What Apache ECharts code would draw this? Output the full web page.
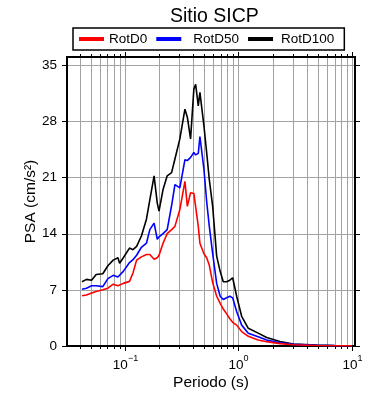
<!DOCTYPE html>
<html>
<head>
<meta charset="utf-8">
<script src="https://cdn.jsdelivr.net/npm/echarts@6/dist/echarts.min.js"></script>
<style>
html, body { margin: 0; padding: 0; background: #fff; }
#chart { width: 390px; height: 400px; }
</style>
</head>
<body>
<div id="chart"></div>
<script>
// periodos (s)
var periods = [0.042, 0.046, 0.051, 0.056, 0.064, 0.071, 0.079, 0.087, 0.09, 0.097,
	0.11, 0.118, 0.127, 0.14, 0.155, 0.166, 0.181, 0.193, 0.2, 0.217,
	0.236, 0.258, 0.276, 0.305, 0.338, 0.355, 0.379, 0.405, 0.42, 0.443,
	0.458, 0.497, 0.525, 0.553, 0.593, 0.643, 0.69, 0.735, 0.787, 0.84,
	0.889, 0.964, 1.067, 1.22, 1.49, 1.77, 2.32, 3.04, 4.89, 7.0, 10.0];

var rotD0 = [6.25, 6.35, 6.6, 6.8, 7.0, 7.2, 7.7, 7.5, 7.5, 7.8,
	8.05, 9.1, 10.7, 11.1, 11.4, 11.4, 10.8, 11.0, 11.3, 12.8,
	14.0, 14.5, 14.9, 17.0, 20.5, 17.4, 19.1, 19.0, 18.9, 14.9,
	12.8, 11.5, 11.0, 10.1, 7.9, 6.2, 5.3, 4.6, 4.0, 3.4,
	2.95, 2.6, 1.8, 1.2, 0.75, 0.54, 0.3, 0.15, 0.07, 0.04, 0.03];

var rotD50 = [7.08, 7.2, 7.5, 7.5, 7.4, 8.4, 8.8, 8.6, 8.55, 9.3,
	10.4, 10.75, 11.3, 12.3, 12.8, 14.5, 15.3, 13.3, 13.6, 14.0,
	14.5, 17.5, 20.1, 19.7, 23.2, 23.1, 23.5, 24.1, 23.8, 24.0,
	26.1, 22.0, 18.0, 15.0, 11.5, 7.8, 6.2, 5.8, 6.0, 6.2,
	6.0, 4.3, 2.6, 1.6, 1.15, 0.75, 0.4, 0.2, 0.09, 0.05, 0.035];

var rotD100 = [8.0, 8.3, 8.2, 8.9, 9.0, 10.0, 10.7, 11.0, 10.3, 11.0,
	12.2, 12.0, 12.4, 13.7, 15.8, 18.2, 21.2, 17.8, 16.8, 19.5,
	21.2, 21.6, 23.3, 25.8, 29.5, 28.5, 25.8, 32.0, 32.6, 29.9,
	31.6, 27.4, 24.1, 20.8, 17.4, 11.2, 9.3, 8.0, 8.0, 8.2,
	8.5, 6.2, 3.7, 2.2, 1.6, 1.05, 0.55, 0.25, 0.12, 0.07, 0.04];

var xTicks = [0.04, 0.05, 0.06, 0.07, 0.08, 0.09, 0.1, 0.2, 0.3, 0.4, 0.5, 0.6, 0.7, 0.8, 0.9,
	1, 2, 3, 4, 5, 6, 7, 8, 9, 10];
var xMajor = [0.1, 1, 10];
var xMajorExp = ['\u22121', '0', '1'];
var yTicks = [0, 7, 14, 21, 28, 35];

var font = 'Liberation Sans, Arial, Helvetica, sans-serif';
var gridColor = '#a3a3a3';

function pairs(vals) {
	return periods.map(function(p, i) {
		return [p, vals[i]];
	});
}

var chart = echarts.init(document.getElementById('chart'));

function renderXTick(params, api) {
	var v = api.value(0);
	var cs = params.coordSys;
	var x = Math.round(api.coord([v, 1])[0]) + 0.5;
	var top = cs.y, bottom = cs.y + cs.height;
	var k = xMajor.indexOf(v);
	var len = k >= 0 ? 5 : 3;
	var children = [{
		type: 'line',
		shape: { x1: x, y1: top + 1, x2: x, y2: bottom - 1 },
		style: { stroke: gridColor, lineWidth: 1 }
	}, {
		type: 'line',
		shape: { x1: x, y1: bottom + 1, x2: x, y2: bottom + len },
		style: { stroke: '#000', lineWidth: 1 }
	}, {
		type: 'line',
		shape: { x1: x, y1: top - len, x2: x, y2: top - 1 },
		style: { stroke: '#000', lineWidth: 1 }
	}];
	if (k >= 0) {
		children.push({
			type: 'text',
			x: x,
			y: bottom + 8,
			style: {
				text: '{b|10}{s|' + xMajorExp[k] + '}',
				align: 'center',
				verticalAlign: 'top',
				fill: '#000',
				rich: {
					b: { fontSize: 13.5, fontFamily: font, lineHeight: 18, verticalAlign: 'bottom' },
					s: { fontSize: 9, fontFamily: font, lineHeight: 10, verticalAlign: 'top' }
				}
			}
		});
	}
	return { type: 'group', children: children };
}

function renderYTick(params, api) {
	var v = api.value(1);
	var cs = params.coordSys;
	var y = Math.round(api.coord([1, v])[1]) + 0.5;
	var left = cs.x, right = cs.x + cs.width;
	var children = [{
		type: 'line',
		shape: { x1: left - 5, y1: y, x2: left - 1, y2: y },
		style: { stroke: '#000', lineWidth: 1 }
	}, {
		type: 'line',
		shape: { x1: right + 1, y1: y, x2: right + 5, y2: y },
		style: { stroke: '#000', lineWidth: 1 }
	}];
	if (v > 0) {
		children.unshift({
			type: 'line',
			shape: { x1: left + 1, y1: y, x2: right - 1, y2: y },
			style: { stroke: gridColor, lineWidth: 1 }
		});
	}
	return { type: 'group', children: children };
}

option = {
	animation: false,
	backgroundColor: '#fff',
	title: {
		text: 'Sitio SICP',
		left: 165,
		top: 2,
		textStyle: { fontFamily: font, fontSize: 19.5, fontWeight: 'normal', color: '#000' }
	},
	legend: {
		left: 73,
		top: 28,
		padding: [4, 10, 4, 6],
		borderColor: '#000',
		borderWidth: 1.5,
		itemWidth: 25,
		itemHeight: 4,
		itemGap: 9,
		icon: 'rect',
		textStyle: { fontFamily: font, fontSize: 13.5, color: '#000' },
		data: [
			{ name: 'RotD0' },
			{ name: 'RotD50', textStyle: { padding: [0, 0, 0, 7] } },
			{ name: 'RotD100', textStyle: { padding: [0, 0, 0, 3] } }
		]
	},
	grid: {
		left: 67,
		right: 35,
		top: 57,
		bottom: 54,
		show: true,
		borderColor: '#000',
		borderWidth: 2,
		backgroundColor: 'transparent'
	},
	xAxis: {
		type: 'log',
		logBase: 10,
		min: 0.031,
		max: 10.6,
		name: 'Periodo (s)',
		nameLocation: 'middle',
		nameGap: 29,
		nameMoveOverlap: false,
		nameTextStyle: { fontFamily: font, fontSize: 15.5, color: '#000' },
		axisLine: { show: false },
		axisTick: { show: false },
		axisLabel: { show: false },
		splitLine: { show: false }
	},
	yAxis: {
		type: 'value',
		min: 0,
		max: 36,
		interval: 7,
		name: 'PSA (cm/s\u00b2)',
		nameLocation: 'middle',
		nameGap: 28,
		nameMoveOverlap: false,
		nameTextStyle: { fontFamily: font, fontSize: 15.5, color: '#000' },
		axisLine: { show: false },
		axisTick: { show: false },
		splitLine: { show: false },
		axisLabel: {
			margin: 10,
			showMaxLabel: false,
			fontFamily: font,
			fontSize: 13.5,
			color: '#000'
		}
	},
	series: [{
		type: 'custom',
		name: 'xgrid',
		z: 1,
		clip: false,
		silent: true,
		renderItem: renderXTick,
		data: xTicks.map(function(v) { return [v, 1]; })
	}, {
		type: 'custom',
		name: 'ygrid',
		z: 1,
		clip: false,
		silent: true,
		renderItem: renderYTick,
		data: yTicks.map(function(v) { return [1, v]; })
	}, {
		type: 'line',
		name: 'RotD100',
		data: pairs(rotD100),
		showSymbol: false,
		z: 3,
		color: '#000',
		lineStyle: { color: '#000', width: 1.6 }
	}, {
		type: 'line',
		name: 'RotD50',
		data: pairs(rotD50),
		showSymbol: false,
		z: 4,
		color: '#0000ff',
		lineStyle: { color: '#0000ff', width: 1.6 }
	}, {
		type: 'line',
		name: 'RotD0',
		data: pairs(rotD0),
		showSymbol: false,
		z: 5,
		color: '#ff0000',
		lineStyle: { color: '#ff0000', width: 1.6 }
	}]
};

chart.setOption(option);
</script>
</body>
</html>
